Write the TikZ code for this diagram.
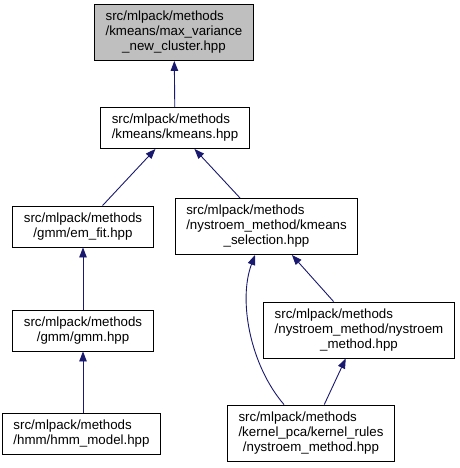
\documentclass[tikz,border=0pt]{standalone}
\usepackage{fontspec}
\setmainfont{Liberation Sans}
\usetikzlibrary{arrows.meta}
\definecolor{edgeblue}{HTML}{191970}
\definecolor{boxgray}{HTML}{BFBFBF}
\newcommand{\fname}[2]{\begin{tabular}{@{}l@{}}#1\\\multicolumn{1}{@{}c@{}}{#2}\end{tabular}}

\begin{document}
\begin{tikzpicture}[x=1pt, y=-1pt,
  file/.style={draw=black, line width=0.9pt, fill=white, inner xsep=11pt, inner ysep=5.5pt,
    font=\fontsize{13.3}{15}\selectfont},
  dep/.style={draw=edgeblue, line width=0.9pt, -{Triangle[length=10pt,width=7.5pt]}}]
  \useasboundingbox (0,0) rectangle (459,468);

  % the header itself
  \node[file, fill=boxgray] (maxvar) at (174,32.5)
    {\fname{src/mlpack/methods\\/kmeans/max\_variance}{\_new\_cluster.hpp}};
  \node[file] (kmeans) at (175,128) {\fname{src/mlpack/methods}{/kmeans/kmeans.hpp}};

  % gmm / hmm branch
  \node[file] (emfit) at (83,226.5) {\fname{src/mlpack/methods}{/gmm/em\_fit.hpp}};
  \node[file] (gmm) at (83,330.5) {\fname{src/mlpack/methods}{/gmm/gmm.hpp}};
  \node[file] (hmm) at (81.5,433.5) {\fname{src/mlpack/methods}{/hmm/hmm\_model.hpp}};

  % nystroem branch
  \node[file] (ksel) at (266.5,226.5)
    {\fname{src/mlpack/methods\\/nystroem\_method/kmeans}{\_selection.hpp}};
  \node[file] (nystroem) at (359,330)
    {\fname{src/mlpack/methods\\/nystroem\_method/nystroem}{\_method.hpp}};
  \node[file] (kernel) at (311,433)
    {\fname{src/mlpack/methods\\/kernel\_pca/kernel\_rules}{/nystroem\_method.hpp}};

  % includes
  \draw[dep] (kmeans) -- (maxvar);
  \draw[dep] (emfit) -- (kmeans);
  \draw[dep] (ksel) -- (kmeans);
  \draw[dep] (gmm) -- (emfit);
  \draw[dep] (hmm.north -| gmm.south) -- (gmm.south);
  \draw[dep] (nystroem) -- (ksel);
  \draw[dep] (kernel) -- (nystroem);
  \draw[dep] ([xshift=-27pt]kernel.north) .. controls (250,365) and (238,300) .. ([xshift=-11.5pt]ksel.south);
\end{tikzpicture}
\end{document}
